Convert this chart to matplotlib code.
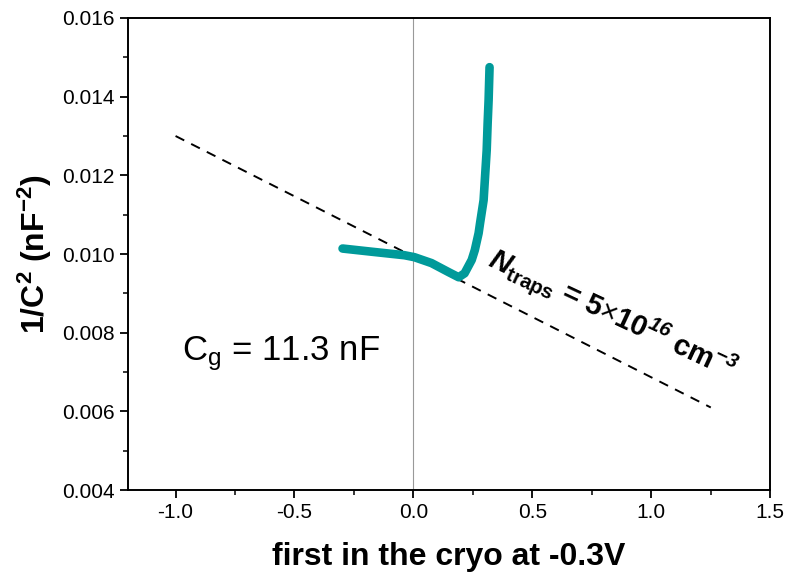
import matplotlib.pyplot as plt
from matplotlib.ticker import MultipleLocator

plt.rcParams['font.family'] = ['Liberation Sans', 'DejaVu Sans']
plt.rcParams['mathtext.fontset'] = 'custom'
plt.rcParams['mathtext.rm'] = 'Liberation Sans'
plt.rcParams['mathtext.it'] = 'Liberation Sans:italic'
plt.rcParams['mathtext.bf'] = 'Liberation Sans:bold'
plt.rcParams['mathtext.bfit'] = 'Liberation Sans:bold:italic'

voltage = [-0.298, -0.177, -0.038, 0.004, 0.076, 0.148, 0.190, 0.215,
           0.245, 0.258, 0.274, 0.280, 0.295, 0.301, 0.308, 0.312, 0.316, 0.320]
inv_c2 = [0.01014, 0.01006, 0.00997, 0.00992, 0.00977, 0.00954, 0.00941,
          0.00951, 0.00985, 0.01010, 0.01053, 0.01078, 0.01137, 0.01196,
          0.01264, 0.01333, 0.01391, 0.01475]

# linear fit line
fit_x = [-1.0, 1.25]
fit_y = [0.0130, 0.0061]

fig = plt.figure(figsize=(7.9, 5.8), dpi=100)
ax = fig.add_axes([0.162, 0.155, 0.813, 0.814])

ax.axvline(0, color='#999999', lw=0.8, zorder=1)
ax.plot(fit_x, fit_y, color='black', ls=(0, (5, 4)), lw=1.4, zorder=2)
ax.plot(voltage, inv_c2, color='#009a9a', lw=6.2, solid_capstyle='round',
        solid_joinstyle='round', zorder=3)

ax.set_xlim(-1.2, 1.5)
ax.set_ylim(0.004, 0.016)
ax.xaxis.set_major_locator(MultipleLocator(0.5))
ax.xaxis.set_minor_locator(MultipleLocator(0.25))
ax.yaxis.set_major_locator(MultipleLocator(0.002))
ax.yaxis.set_minor_locator(MultipleLocator(0.001))
ax.xaxis.set_major_formatter(plt.FormatStrFormatter('%.1f'))
ax.yaxis.set_major_formatter(plt.FormatStrFormatter('%.3f'))
ax.tick_params(which='major', direction='out', length=6, width=1.3, labelsize=15)
ax.tick_params(which='minor', direction='out', length=3.5, width=1.1)
for s in ax.spines.values():
    s.set_linewidth(1.4)

ax.set_xlabel('first in the cryo at -0.3V', fontsize=23, fontweight='bold', labelpad=14)
ax.set_ylabel(r'1/C$^{\mathbf{2}}$ (nF$^{\mathbf{-2}}$)', fontsize=23,
              fontweight='bold', labelpad=6)

ax.text(-0.556, 0.0073, r'C$_\mathrm{g}$ = 11.3 nF', fontsize=25,
        ha='center', va='baseline')
ax.text(0.835, 0.00844,
        r'$\mathbfit{N}_{\mathbf{traps}}$ = 5$\times$10$^{\mathbfit{16}}$ cm$^{\mathbfit{-3}}$',
        fontsize=21, fontweight='bold', rotation=-25, rotation_mode='anchor',
        ha='center', va='center')

fig.savefig('out.png', dpi=100)
